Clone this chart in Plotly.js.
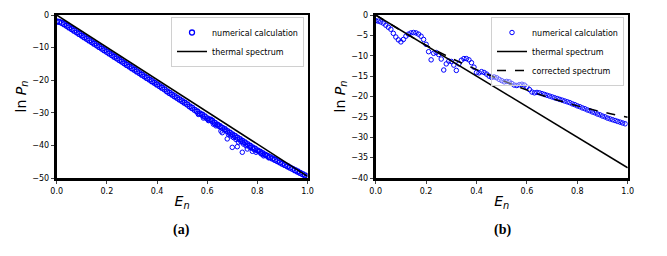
<!DOCTYPE html>
<html>
<head>
<meta charset="utf-8">
<script src="https://cdn.plot.ly/plotly-3.0.1.min.js"></script>
<style>html,body{margin:0;padding:0;background:#fff;}#chart{width:667px;height:256px;}</style>
</head>
<body>
<div id="chart"></div>
<script>
// ---------- Panel (a) ----------
const xA = [0.00,0.01,0.02,0.03,0.04,0.05,0.06,0.07,0.08,0.09,0.10,0.11,0.12,0.13,0.14,0.15,0.16,0.17,0.18,0.19,
0.20,0.21,0.22,0.23,0.24,0.25,0.26,0.27,0.28,0.29,0.30,0.31,0.32,0.33,0.34,0.35,0.36,0.37,0.38,0.39,
0.40,0.41,0.42,0.43,0.44,0.45,0.46,0.47,0.48,0.49,0.50,0.51,0.52,0.53,0.54,0.55,0.56,0.57,0.58,0.59,
0.60,0.61,0.62,0.63,0.64,0.65,0.66,0.67,0.68,0.69,0.70,0.71,0.72,0.73,0.74,0.75,0.76,0.77,0.78,0.79,
0.80,0.81,0.82,0.83,0.84,0.85,0.86,0.87,0.88,0.89,0.90,0.91,0.92,0.93,0.94,0.95,0.96,0.97,0.98,0.99,1.00];
const yA = [-2.0,-2.1,-2.4,-2.8,-3.3,-3.8,-4.3,-4.8,-5.3,-5.8,-6.3,-6.8,-7.3,-7.8,-8.3,-8.8,-9.3,-9.8,-10.3,-10.8,
-11.3,-11.8,-12.3,-12.8,-13.3,-13.8,-14.3,-14.8,-15.3,-15.8,-16.3,-16.8,-17.3,-17.8,-18.3,-18.8,-19.3,-19.8,-20.3,-20.8,
-21.3,-21.8,-22.3,-22.8,-23.4,-23.9,-24.4,-24.9,-25.4,-25.9,-26.4,-26.9,-27.4,-28.0,-28.5,-29.1,-29.6,-30.2,-30.6,-31.1,
-31.7,-32.1,-32.5,-33.1,-33.6,-34.1,-34.6,-35.0,-35.6,-36.1,-36.6,-37.1,-37.6,-38.1,-38.6,-39.1,-39.6,-40.1,-40.6,-41.0,
-41.5,-41.9,-42.4,-42.8,-43.2,-43.6,-44.0,-44.4,-44.8,-45.2,-45.6,-46.0,-46.4,-46.8,-47.2,-47.6,-48.0,-48.4,-48.8,-49.2,-49.5];
// scattered extra points of the numerical calculation
const xA2 = [0.565,0.585,0.605,0.615,0.625,0.635,0.645,0.655,0.660,0.670,0.680,0.685,0.695,0.700,0.705,0.715,0.720,0.725,0.735,0.740,0.745,0.755,0.760,0.770,0.780,0.785,0.795,0.805,0.815,0.825,0.835,0.845];
const yA2 = [-30.5,-31.6,-32.4,-32.0,-33.5,-34.0,-33.8,-35.6,-36.1,-35.3,-38.0,-36.6,-37.1,-40.6,-37.6,-38.2,-40.4,-39.0,-38.9,-42.1,-39.6,-40.1,-41.1,-40.6,-41.8,-41.2,-42.1,-41.7,-42.6,-43.2,-43.0,-43.8];
const thermXA = [0.0, 1.0];
const thermYA = [0.0, -49.5];

// ---------- Panel (b) ----------
const xB = [0.00,0.01,0.02,0.03,0.04,0.05,0.06,0.07,0.08,0.09,0.10,0.11,0.12,0.13,0.14,0.15,0.16,0.17,0.18,0.19,
0.20,0.21,0.22,0.23,0.24,0.25,0.26,0.27,0.28,0.29,0.30,0.31,0.32,0.33,0.34,0.35,0.36,0.37,0.38,0.39,
0.40,0.41,0.42,0.43,0.44,0.45,0.46,0.47,0.48,0.49,0.50,0.51,0.52,0.53,0.54,0.55,0.56,0.57,0.58,0.59,
0.60,0.61,0.62,0.63,0.64,0.65,0.66,0.67,0.68,0.69,0.70,0.71,0.72,0.73,0.74,0.75,0.76,0.77,0.78,0.79,
0.80,0.81,0.82,0.83,0.84,0.85,0.86,0.87,0.88,0.89,0.90,0.91,0.92,0.93,0.94,0.95,0.96,0.97,0.98,0.99];
const yB = [-1.4,-1.5,-1.7,-2.0,-2.5,-3.0,-3.5,-4.5,-5.4,-6.1,-6.6,-6.0,-5.2,-4.7,-4.4,-4.3,-4.4,-4.7,-5.2,-6.0,
-7.2,-9.0,-11.0,-9.4,-9.2,-9.7,-10.8,-13.5,-12.0,-11.3,-11.4,-12.3,-13.6,-12.0,-11.1,-10.7,-10.7,-11.0,-11.7,-12.8,
-14.1,-14.2,-13.9,-14.1,-14.5,-15.0,-15.3,-15.2,-15.4,-15.8,-16.1,-16.4,-16.3,-16.4,-16.8,-17.2,-17.3,-17.1,-17.0,-17.2,
-17.7,-18.3,-18.9,-19.1,-19.0,-19.1,-19.3,-19.5,-19.7,-19.9,-20.1,-20.3,-20.5,-20.7,-20.9,-21.1,-21.3,-21.5,-21.8,-22.0,
-22.3,-22.5,-22.8,-23.0,-23.3,-23.5,-23.8,-24.0,-24.3,-24.5,-24.8,-25.0,-25.3,-25.5,-25.7,-25.9,-26.1,-26.3,-26.5,-26.7];
const thermXB = [0.0, 1.0];
const thermYB = [0.0, -37.5];
const corrXB = [0.0,0.1,0.2,0.3,0.4,0.5,0.6,0.7,0.8,0.9,1.0];
const corrYB = [0.0,-3.8,-7.4,-10.6,-13.4,-16.0,-18.4,-20.5,-22.3,-23.8,-25.1];

const xTicks = [0.0,0.2,0.4,0.6,0.8,1.0];
const yTicksA = [0,-10,-20,-30,-40,-50];
const yTicksB = [0,-5,-10,-15,-20,-25,-30,-35,-40];

const BLUE = '#0000ff';
const FONT = 'DejaVu Sans, sans-serif';
const mk = {symbol:'circle-open', size:4.5, color:BLUE, line:{width:1, color:BLUE}};
const mkDense = {symbol:'circle-open', size:5, color:BLUE, line:{width:1.3, color:BLUE}};

const traces = [
  {x:xA, y:yA, xaxis:'x', yaxis:'y', mode:'markers', marker:mkDense, name:'numerical calculation', legend:'legend', legendgroup:'na'},
  {x:xA2, y:yA2, xaxis:'x', yaxis:'y', mode:'markers', marker:mk, name:'numerical calculation', legend:'legend', legendgroup:'na', showlegend:false},
  {x:thermXA, y:thermYA, xaxis:'x', yaxis:'y', mode:'lines', line:{color:'#000', width:1.5}, name:'thermal spectrum', legend:'legend'},
  {x:xB, y:yB, xaxis:'x2', yaxis:'y2', mode:'markers', marker:mk, name:'numerical calculation', legend:'legend2'},
  {x:thermXB, y:thermYB, xaxis:'x2', yaxis:'y2', mode:'lines', line:{color:'#000', width:1.5}, name:'thermal spectrum', legend:'legend2'},
  {x:corrXB, y:corrYB, xaxis:'x2', yaxis:'y2', mode:'lines', line:{color:'#000', width:1.5, dash:'dash', shape:'spline'}, name:'corrected spectrum', legend:'legend2'}
];

function xax(domain, anchor){
  return {domain:domain, anchor:anchor, range:[0,1], tickvals:xTicks, ticktext:xTicks.map(v=>v.toFixed(1)),
    showline:true, mirror:true, linewidth:2.5, linecolor:'#000', ticks:'outside', ticklen:3.5, tickwidth:1,
    showgrid:false, zeroline:false, tickfont:{family:FONT, size:8, color:'#000'},
    title:{text:'<i>E</i><sub><i>n</i></sub>', font:{family:FONT, size:14, color:'#000'}, standoff:2}};
}
function yax(domain, anchor, range, ticks){
  return {domain:domain, anchor:anchor, range:range, tickvals:ticks,
    showline:true, mirror:true, linewidth:2.5, linecolor:'#000', ticks:'outside', ticklen:3.5, tickwidth:1,
    showgrid:false, zeroline:false, tickfont:{family:FONT, size:8, color:'#000'},
    title:{text:'ln <i>P</i><sub><i>n</i></sub>', font:{family:FONT, size:14, color:'#000'}, standoff:3}};
}
const yDom = [1-178/256, 1-15/256];
const layout = {
  width:667, height:256, margin:{l:0, r:0, t:0, b:0}, paper_bgcolor:'#fff', plot_bgcolor:'#fff',
  font:{family:FONT, color:'#000'},
  xaxis: xax([56.7/667, 307.5/667], 'y'),
  yaxis: yax(yDom, 'x', [-50,0], yTicksA),
  xaxis2: xax([375.7/667, 627.7/667], 'y2'),
  yaxis2: yax(yDom, 'x2', [-40,0], yTicksB),
  legend:{x:304/667, xanchor:'right', y:1-17/256, yanchor:'top', bgcolor:'rgba(255,255,255,0.5)', bordercolor:'#d0d0d0', borderwidth:1,
    font:{family:FONT, size:8, color:'#000'}, tracegroupgap:0, itemwidth:30},
  legend2:{x:624/667, xanchor:'right', y:1-17/256, yanchor:'top', bgcolor:'rgba(255,255,255,0.4)', bordercolor:'#d0d0d0', borderwidth:1,
    font:{family:FONT, size:8, color:'#000'}, tracegroupgap:0, itemwidth:30},
  annotations:[
    {text:'<b>(a)</b>', x:181/667, y:1-230/256, xref:'paper', yref:'paper', xanchor:'center', yanchor:'middle', showarrow:false, font:{family:'Liberation Serif, serif', size:14, color:'#000'}},
    {text:'<b>(b)</b>', x:502/667, y:1-230/256, xref:'paper', yref:'paper', xanchor:'center', yanchor:'middle', showarrow:false, font:{family:'Liberation Serif, serif', size:14, color:'#000'}}
  ]
};
Plotly.newPlot('chart', traces, layout, {displayModeBar:false, staticPlot:true});
</script>
</body>
</html>
